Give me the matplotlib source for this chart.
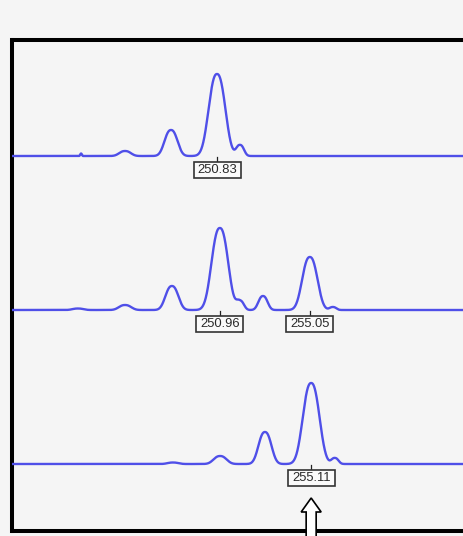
import numpy as np
import matplotlib
matplotlib.use("Agg")
import matplotlib.pyplot as plt
import matplotlib.transforms as mtransforms
from matplotlib.patches import Rectangle, FancyArrow

# peak tables per capillary trace: size (bp), height, width (bp)
trace1_size = [244.65, 246.65, 248.74, 250.83, 251.88]
trace1_height = [2.5, 5, 26, 82, 11]
trace1_width = [0.05, 0.34, 0.38, 0.49, 0.23]

trace2_size = [244.51, 246.65, 248.78, 250.96, 251.88, 252.92, 255.05, 256.10]
trace2_height = [1.5, 5, 24, 82, 9, 14, 53, 3]
trace2_width = [0.32, 0.36, 0.38, 0.49, 0.23, 0.27, 0.45, 0.20]

trace3_size = [248.83, 250.97, 253.01, 255.11, 256.19]
trace3_height = [1.5, 8, 32, 81, 6]
trace3_width = [0.32, 0.38, 0.38, 0.49, 0.21]

# called allele sizes shown under each trace
trace1_calls = [250.83]
trace2_calls = [250.96, 255.05]
trace3_calls = [255.11]

baselines = [375, 221, 67]
BG = "#f5f5f5"
LINE = "#4f4fe8"


def trace(x, sizes, heights, widths, base):
    y = np.full_like(x, float(base))
    for s, h, w in zip(sizes, heights, widths):
        y += h * np.exp(-np.abs((x - s) / w) ** 2.4)
    return y


fig = plt.figure(figsize=(4.64, 5.36), dpi=100, facecolor=BG)
ax = fig.add_axes([12.5 / 464, 5 / 536, (490 - 12.5) / 464, 491.5 / 536])
ax.set_facecolor(BG)

x0 = 250.83 - (217 - 12.5) / 22.0
x1 = 250.83 + (490 - 217) / 22.0
ax.set_xlim(x0, x1)
ax.set_ylim(0, 491.5)

x = np.linspace(x0, x1, 6000)
traces = [
    (trace1_size, trace1_height, trace1_width, trace1_calls),
    (trace2_size, trace2_height, trace2_width, trace2_calls),
    (trace3_size, trace3_height, trace3_width, trace3_calls),
]

for (sizes, heights, widths, calls), base in zip(traces, baselines):
    ax.plot(x, trace(x, sizes, heights, widths, base), color=LINE, lw=1.7,
            solid_joinstyle="round", zorder=3)
    for c in calls:
        anchor = mtransforms.ScaledTranslation(c, base, ax.transData)
        tr = fig.dpi_scale_trans + anchor
        # short tick from baseline to the label box
        ax.plot([0, 0], [-0.01, -0.06], color="#222222", lw=0.9, transform=tr,
                clip_on=False, zorder=4)
        ax.add_patch(Rectangle((-0.235, -0.22), 0.47, 0.16, transform=tr,
                               facecolor="#fafafa", edgecolor="#333333",
                               lw=1.2, clip_on=False, zorder=4))
        ax.text(0, -0.142, f"{c:.2f}", transform=tr, ha="center", va="center",
                fontsize=9.4, family="Liberation Sans", color="#2a2a2a",
                zorder=5)

# hollow arrow pointing at the highlighted allele
arrow_x = trace3_calls[0]
ax.add_patch(FancyArrow(arrow_x, -20, 0, 53, width=10 / 22.0,
                        head_width=20 / 22.0, head_length=14,
                        length_includes_head=True, facecolor="white",
                        edgecolor="black", lw=1.2, clip_on=False, zorder=6))

for side in ["left", "top", "bottom", "right"]:
    ax.spines[side].set_linewidth(2.9)
    ax.spines[side].set_color("black")
ax.set_xticks([])
ax.set_yticks([])

fig.savefig("out.png", dpi=100, facecolor=BG)
